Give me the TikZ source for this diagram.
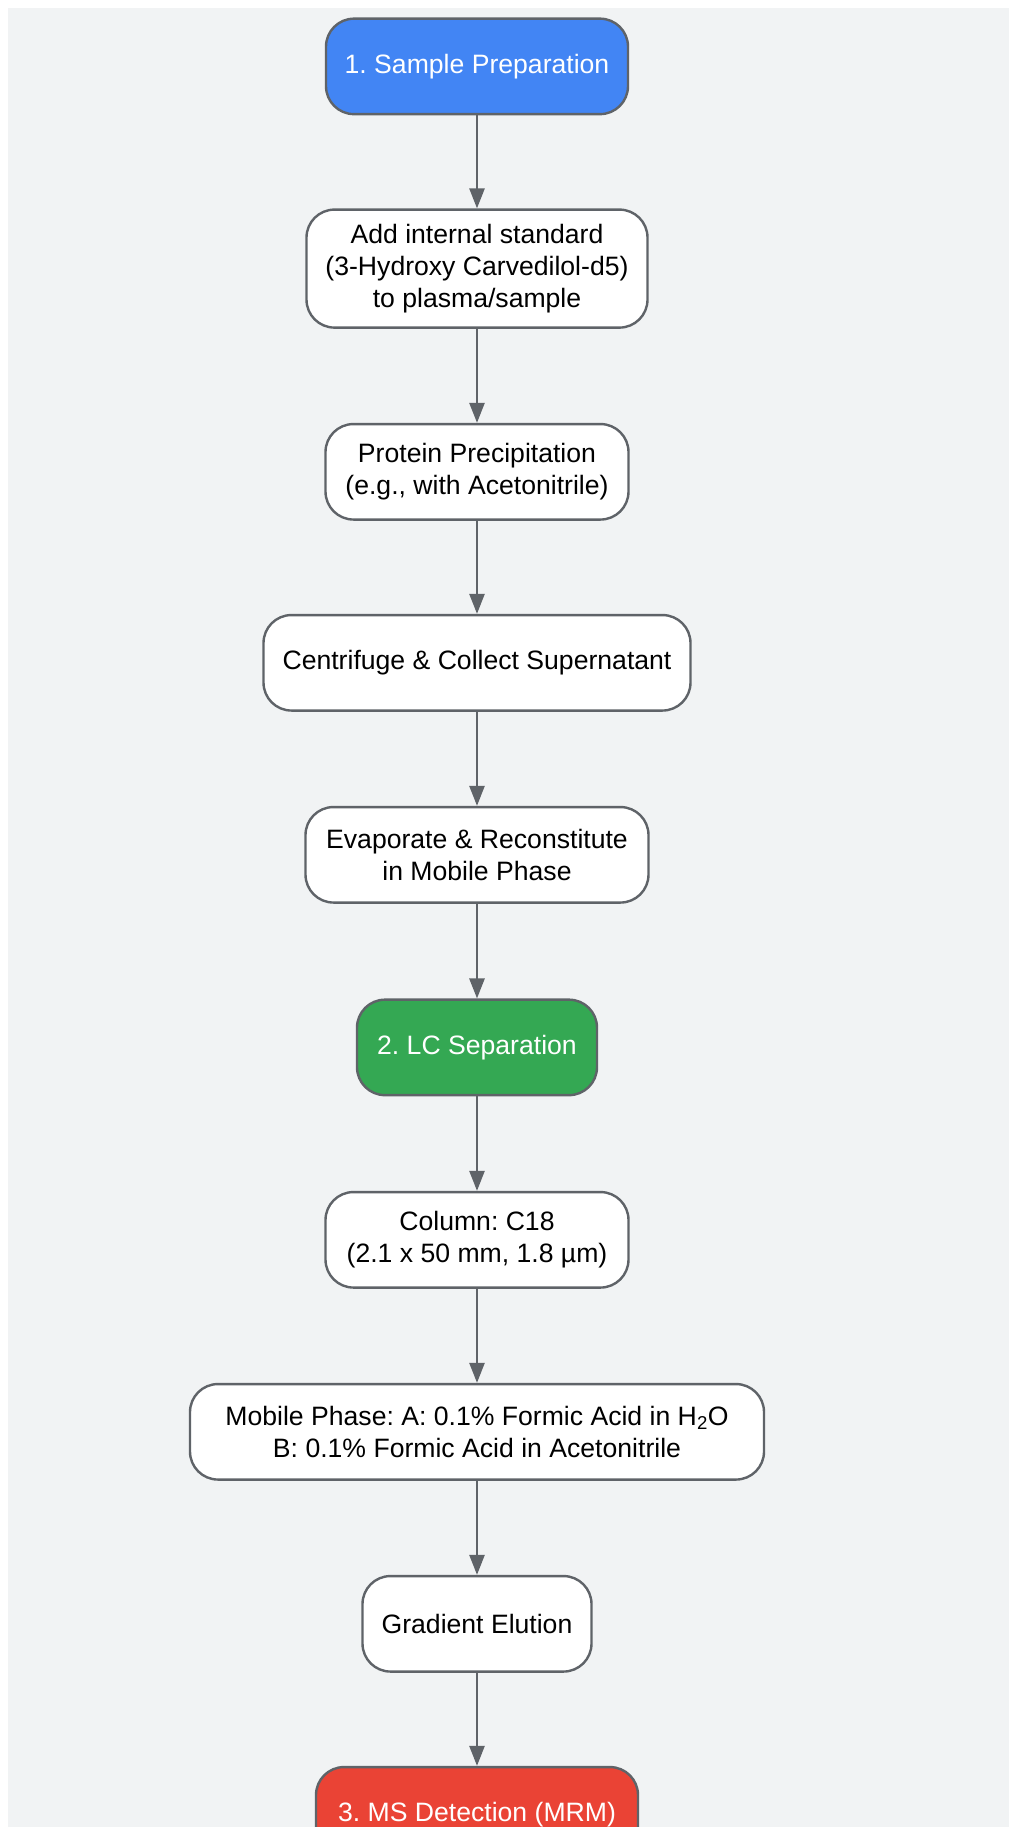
\documentclass[tikz,border=0pt]{standalone}
\usepackage{fontspec}
\setmainfont{Liberation Sans}
\frenchspacing
\usetikzlibrary{arrows.meta}

\definecolor{bgGray}{HTML}{F1F3F4}
\definecolor{lineGray}{HTML}{5F6368}
\definecolor{stepBlue}{HTML}{4285F4}
\definecolor{stepGreen}{HTML}{34A853}
\definecolor{stepRed}{HTML}{EA4335}

\tikzset{
  box/.style={draw=lineGray, line width=2.4pt, rounded corners=28pt, fill=white,
    align=center, minimum height=95.5pt, inner sep=0pt,
    font=\fontsize{26.6}{32}\selectfont},
  stage/.style={box, text=white},
  flow/.style={draw=lineGray, line width=2.6pt, -{Triangle[length=20pt,width=15pt]}}
}

\begin{document}
\begin{tikzpicture}[x=1pt, y=-1pt]
\useasboundingbox (0,0) rectangle (1009,1827);
\clip (0,0) rectangle (1009,1827);
% background panel
\fill[white] (0,0) rectangle (1009,1827);
\fill[bgGray] (8,8) rectangle (1009,1827);

% stage 1
\node[stage, fill=stepBlue, minimum width=302pt] (prep) at (477,66.4) {1. Sample Preparation};
\node[box, minimum width=341pt, minimum height=118pt] (addis) at (477,268.6) {Add internal standard\\(3-Hydroxy Carvedilol-d5)\\to plasma/sample};
\node[box, minimum width=303pt] (precip) at (477,471.8) {Protein Precipitation\\(e.g., with Acetonitrile)};
\node[box, minimum width=427pt] (centri) at (477,662.8) {Centrifuge \& Collect Supernatant};
\node[box, minimum width=343pt] (evap) at (477,854.8) {Evaporate \& Reconstitute\\in Mobile Phase};

% stage 2
\node[stage, fill=stepGreen, minimum width=240pt] (lcsep) at (477,1047.4) {2. LC Separation};
\node[box, minimum width=303pt] (column) at (477,1239.8) {Column: C18\\(2.1 x 50 mm, 1.8 µm)};
\node[box, minimum width=574pt] (mobile) at (477,1431.8) {Mobile Phase: A: 0.1\% Formic Acid in H\textsubscript{2}O\\B: 0.1\% Formic Acid in Acetonitrile};
\node[box, minimum width=229pt] (grad) at (477,1623.8) {Gradient Elution};

% stage 3
\node[stage, fill=stepRed, minimum width=322pt] (msdet) at (477,1814.8) {3. MS Detection (MRM)};

\draw[flow] (prep) -- (addis);
\draw[flow] (addis) -- (precip);
\draw[flow] (precip) -- (centri);
\draw[flow] (centri) -- (evap);
\draw[flow] (evap) -- (lcsep);
\draw[flow] (lcsep) -- (column);
\draw[flow] (column) -- (mobile);
\draw[flow] (mobile) -- (grad);
\draw[flow] (grad) -- (msdet);
\end{tikzpicture}
\end{document}
